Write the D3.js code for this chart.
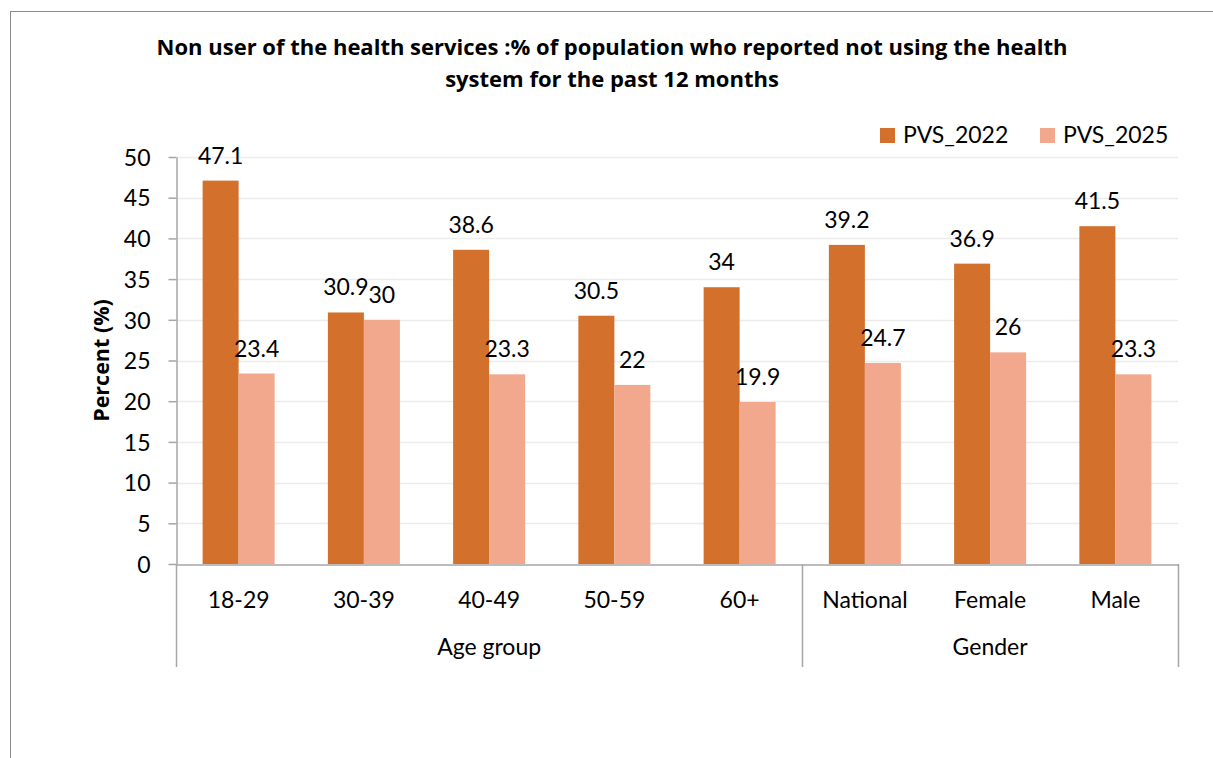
<!DOCTYPE html>
<html>
<head>
<meta charset="utf-8">
<script src="https://cdn.jsdelivr.net/npm/d3@7"></script>
<style>
  html, body { margin: 0; padding: 0; background: #fff; }
  svg text { font-family: Lato, "Open Sans", sans-serif; fill: #000; }
</style>
</head>
<body>
<svg id="chart" width="1213" height="758"></svg>
<script>
// Categories, grouped into Age group and Gender
const categories = ["18-29", "30-39", "40-49", "50-59", "60+", "National", "Female", "Male"];
const groups = [
  { name: "Age group", from: "18-29", to: "60+" },
  { name: "Gender", from: "National", to: "Male" }
];
const seriesNames = ["PVS_2022", "PVS_2025"];
const pvs2022 = [47.1, 30.9, 38.6, 30.5, 34, 39.2, 36.9, 41.5];
const pvs2025 = [23.4, 30, 23.3, 22, 19.9, 24.7, 26, 23.3];
const yTicks = [0, 5, 10, 15, 20, 25, 30, 35, 40, 45, 50];
const colors = ["#D2702C", "#F2A88C"];

const svg = d3.select("#chart");
const fontSize = 23;

// Outer frame
svg.append("rect")
  .attr("x", 10.5).attr("y", 11.5)
  .attr("width", 1240).attr("height", 800)
  .attr("fill", "none").attr("stroke", "#8c8c8c").attr("stroke-width", 1);

const plotLeft = 176, plotRight = 1178, plotTop = 157, plotBottom = 564;

const x = d3.scaleBand().domain(categories).range([plotLeft, plotRight])
  .paddingInner(0.425).paddingOuter(0.2125);
const xs = d3.scaleBand().domain(seriesNames).range([0, x.bandwidth()]);
const y = d3.scaleLinear().domain([0, 50]).range([plotBottom, plotTop]);

// Gridlines
svg.append("g").selectAll("line").data(yTicks.filter(t => t > 0)).join("line")
  .attr("x1", plotLeft).attr("x2", plotRight)
  .attr("y1", d => Math.round(y(d)) + 0.5).attr("y2", d => Math.round(y(d)) + 0.5)
  .attr("stroke", "#ececec").attr("stroke-width", 1.5);

// Bars with value labels
const rows = categories.map((c, i) => ({ cat: c, vals: [pvs2022[i], pvs2025[i]] }));
const barG = svg.append("g");
rows.forEach(r => {
  r.vals.forEach((v, j) => {
    barG.append("rect")
      .attr("x", x(r.cat) + xs(seriesNames[j]))
      .attr("y", y(v))
      .attr("width", xs.bandwidth())
      .attr("height", y(0) - y(v))
      .attr("fill", colors[j]);
    barG.append("text")
      .attr("x", x(r.cat) + xs(seriesNames[j]) + xs.bandwidth() / 2)
      .attr("y", y(v) - 17)
      .attr("text-anchor", "middle")
      .attr("font-size", fontSize)
      .text(v);
  });
});

// Y axis
const yAxis = d3.axisLeft(y).tickValues(yTicks).tickSize(8).tickSizeOuter(0).tickPadding(18);
const yg = svg.append("g").attr("transform", `translate(${plotLeft + 0.5},0)`).call(yAxis);
yg.select(".domain").attr("stroke", "#a6a6a6").attr("stroke-width", 1.5);
yg.selectAll(".tick line").attr("stroke", "#a6a6a6").attr("stroke-width", 1.5);
yg.selectAll(".tick text").attr("font-size", fontSize).attr("fill", "#000")
  .style("font-family", "Lato, sans-serif").attr("dy", "0.36em");

// Category axis
const xAxis = d3.axisBottom(x).tickSize(0).tickPadding(27);
const xg = svg.append("g").attr("transform", `translate(0,${plotBottom + 0.5})`).call(xAxis);
xg.select(".domain").attr("stroke", "#a6a6a6").attr("stroke-width", 1.5);
xg.selectAll(".tick text").attr("font-size", fontSize).attr("fill", "#000")
  .style("font-family", "Lato, sans-serif");

// Group dividers and group labels
const step = x.step();
const edgeOf = c => x(c) - (step - x.bandwidth()) / 2;
const dividers = [edgeOf(groups[0].from), edgeOf(groups[1].from), edgeOf(groups[1].to) + step];
svg.append("g").selectAll("line").data(dividers).join("line")
  .attr("x1", d => Math.round(d) + 0.5).attr("x2", d => Math.round(d) + 0.5)
  .attr("y1", plotBottom).attr("y2", 667)
  .attr("stroke", "#a6a6a6").attr("stroke-width", 1.5);
svg.append("g").selectAll("text").data(groups).join("text")
  .attr("x", g => (edgeOf(g.from) + edgeOf(g.to) + step) / 2)
  .attr("y", 655)
  .attr("text-anchor", "middle")
  .attr("font-size", fontSize)
  .text(g => g.name);

// Y axis title
svg.append("text")
  .attr("transform", `translate(109,${(plotTop + plotBottom) / 2}) rotate(-90)`)
  .attr("text-anchor", "middle")
  .style("font-family", "'Open Sans', sans-serif")
  .attr("font-size", 21.5).attr("font-weight", "bold")
  .text("Percent (%)");

// Title
const titleLines = [
  "Non user of the health services :% of population who reported not using the health",
  "system for the past 12 months"
];
svg.append("g").selectAll("text").data(titleLines).join("text")
  .attr("x", 612).attr("y", (d, i) => 55 + i * 32)
  .attr("text-anchor", "middle")
  .style("font-family", "'Open Sans', sans-serif")
  .attr("font-size", 22).attr("font-weight", "bold")
  .text(d => d);

// Legend
const legendX = [880, 1040];
const lg = svg.append("g").selectAll("g").data(seriesNames).join("g")
  .attr("transform", (d, i) => `translate(${legendX[i]},128)`);
lg.append("rect").attr("width", 15).attr("height", 15).attr("fill", (d, i) => colors[i]);
lg.append("text").attr("x", 23).attr("y", 15).attr("font-size", fontSize).text(d => d);
</script>
</body>
</html>
